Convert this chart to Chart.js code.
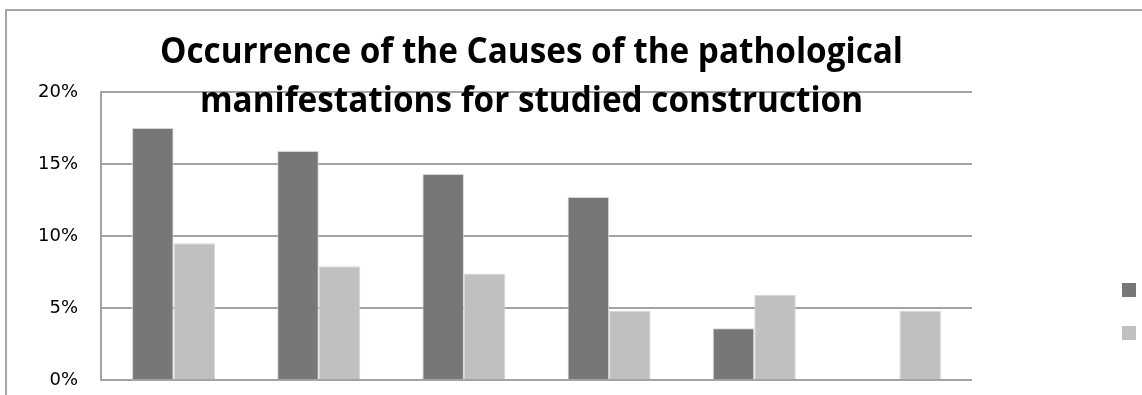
<!DOCTYPE html>
<html>
<head>
<meta charset="utf-8">
<script src="https://cdn.jsdelivr.net/npm/chart.js@4.4.1/dist/chart.umd.min.js"></script>
<style>
  html, body { margin: 0; padding: 0; background: #ffffff; }
  #wrap { position: relative; width: 1142px; height: 395px; overflow: hidden; }
  canvas { display: block; }
</style>
</head>
<body>
<div id="wrap"><canvas id="c" width="1142" height="395"></canvas></div>
<script>
// ---- data ----
const categories = ['Cause 1', 'Cause 2', 'Cause 3', 'Cause 4', 'Cause 5', 'Cause 6'];
const seriesA = [17.5, 15.9, 14.3, 12.7, 3.6, 0];
const seriesB = [9.5, 7.9, 7.4, 4.8, 5.9, 4.8];
const yTicks = [0, 5, 10, 15, 20];
const titleLines = ['Occurrence of the Causes of the pathological', 'manifestations for studied construction'];

const colorA = '#777777';
const colorB = '#c0c0c0';
const gridColor = '#a3a3a3';

const frameAndTitle = {
  id: 'frameAndTitle',
  beforeDraw(chart) {
    const ctx = chart.ctx;
    ctx.save();
    ctx.fillStyle = '#ffffff';
    ctx.fillRect(0, 0, chart.width, chart.height);
    ctx.strokeStyle = '#a6a6a6';
    ctx.lineWidth = 2;
    ctx.beginPath();
    ctx.moveTo(6, chart.height);
    ctx.lineTo(6, 10);
    ctx.lineTo(chart.width, 10);
    ctx.stroke();
    ctx.restore();
  },
  afterDraw(chart) {
    const ctx = chart.ctx;
    ctx.save();
    ctx.fillStyle = '#000000';
    ctx.font = 'bold 35px "Open Sans"';
    ctx.textAlign = 'center';
    ctx.textBaseline = 'alphabetic';
    const w1 = ctx.measureText(titleLines[0]).width;
    const sx = 743 / w1;
    const cx = 531.5;
    const baselines = [62.5, 112];
    titleLines.forEach((t, i) => {
      ctx.save();
      ctx.translate(cx, baselines[i]);
      ctx.scale(sx, 1);
      ctx.fillText(t, 0, 0);
      ctx.restore();
    });
    // legend boxes (labels lie beyond the visible edge in the reference)
    const ds = chart.data.datasets;
    const boxY = [283, 326];
    ds.forEach((d, i) => {
      ctx.fillStyle = d.backgroundColor;
      ctx.fillRect(1122, boxY[i], 14, 14);
    });
    ctx.restore();
  }
};

function build() {
  new Chart(document.getElementById('c'), {
    type: 'bar',
    data: {
      labels: categories,
      datasets: [
        { label: 'Series 1', data: seriesA, backgroundColor: colorA, borderColor: '#d4d4d4', borderWidth: 1,
          barPercentage: 1.0, categoryPercentage: 0.572 },
        { label: 'Series 2', data: seriesB, backgroundColor: colorB, borderColor: '#d8d8d8', borderWidth: 1,
          barPercentage: 1.0, categoryPercentage: 0.572 }
      ]
    },
    options: {
      responsive: false,
      animation: false,
      devicePixelRatio: 1,
      layout: { padding: { left: 0, top: 92, right: 170, bottom: 15 } },
      plugins: {
        legend: { display: false },
        title: { display: false },
        tooltip: { enabled: false }
      },
      scales: {
        x: {
          display: false,
          grid: { display: false }
        },
        y: {
          min: 0,
          max: 20,
          afterBuildTicks(scale) { scale.ticks = yTicks.map(v => ({ value: v })); },
          afterFit(scale) { scale.width = 101; },
          ticks: {
            color: '#000000',
            padding: 0,
            font: { family: '"DejaVu Sans"', size: 18 },
            callback: v => v + '%'
          },
          grid: { color: gridColor, lineWidth: 2, drawTicks: true, tickLength: 23, tickColor: 'rgba(0,0,0,0)' },
          border: { display: true, color: gridColor, width: 2 }
        }
      }
    },
    plugins: [frameAndTitle]
  });
}

if (document.fonts && document.fonts.load) {
  Promise.all([
    document.fonts.load('bold 35px "Open Sans"'),
    document.fonts.load('18px "DejaVu Sans"')
  ]).then(build, build);
} else {
  build();
}
</script>
</body>
</html>
